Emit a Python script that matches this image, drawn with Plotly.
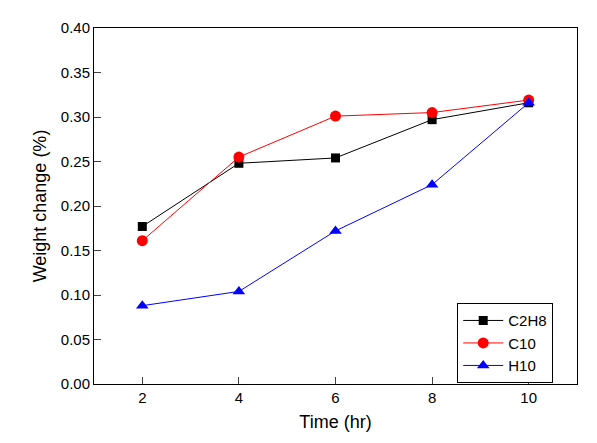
import plotly.graph_objects as go

time_hr = [2, 4, 6, 8, 10]
c2h8 = [0.177, 0.248, 0.254, 0.297, 0.316]
c10 = [0.161, 0.255, 0.301, 0.305, 0.319]
h10 = [0.088, 0.104, 0.172, 0.224, 0.316]
y_ticks = [0.00, 0.05, 0.10, 0.15, 0.20, 0.25, 0.30, 0.35, 0.40]

fig = go.Figure()
fig.add_trace(go.Scatter(x=time_hr, y=c2h8, name="C2H8", mode="lines+markers",
                         line=dict(color="black", width=1),
                         marker=dict(symbol="square", size=9, color="black")))
fig.add_trace(go.Scatter(x=time_hr, y=c10, name="C10", mode="lines+markers",
                         line=dict(color="red", width=1),
                         marker=dict(symbol="circle", size=11, color="red")))
fig.add_trace(go.Scatter(x=time_hr, y=h10, name="H10", mode="lines+markers",
                         line=dict(color="blue", width=1),
                         marker=dict(symbol="triangle-up", size=11, color="blue")))

font_family = "Arial, Liberation Sans, sans-serif"
fig.update_layout(
    width=597, height=443,
    margin=dict(l=86, r=28, t=20, b=67),
    paper_bgcolor="white", plot_bgcolor="white",
    font=dict(family=font_family, color="black", size=15),
    showlegend=True,
    legend=dict(x=0.752, y=0.227, xanchor="left", yanchor="top",
                bordercolor="black", borderwidth=1, bgcolor="white",
                font=dict(size=15, family=font_family), tracegroupgap=0,
                itemwidth=40),
    xaxis=dict(range=[1, 11], tickvals=time_hr, ticks="inside", ticklen=7,
               showline=True, linecolor="black", linewidth=1, mirror=True,
               showgrid=False, zeroline=False,
               tickfont=dict(size=15),
               title=dict(text="Time (hr)", font=dict(size=18), standoff=10)),
    yaxis=dict(range=[0, 0.40], tickvals=y_ticks, tickformat=".2f",
               ticks="inside", ticklen=7,
               showline=True, linecolor="black", linewidth=1, mirror=True,
               showgrid=False, zeroline=False,
               tickfont=dict(size=15),
               title=dict(text="Weight change (%)", font=dict(size=18), standoff=9)),
)

fig.write_html("out.html")
